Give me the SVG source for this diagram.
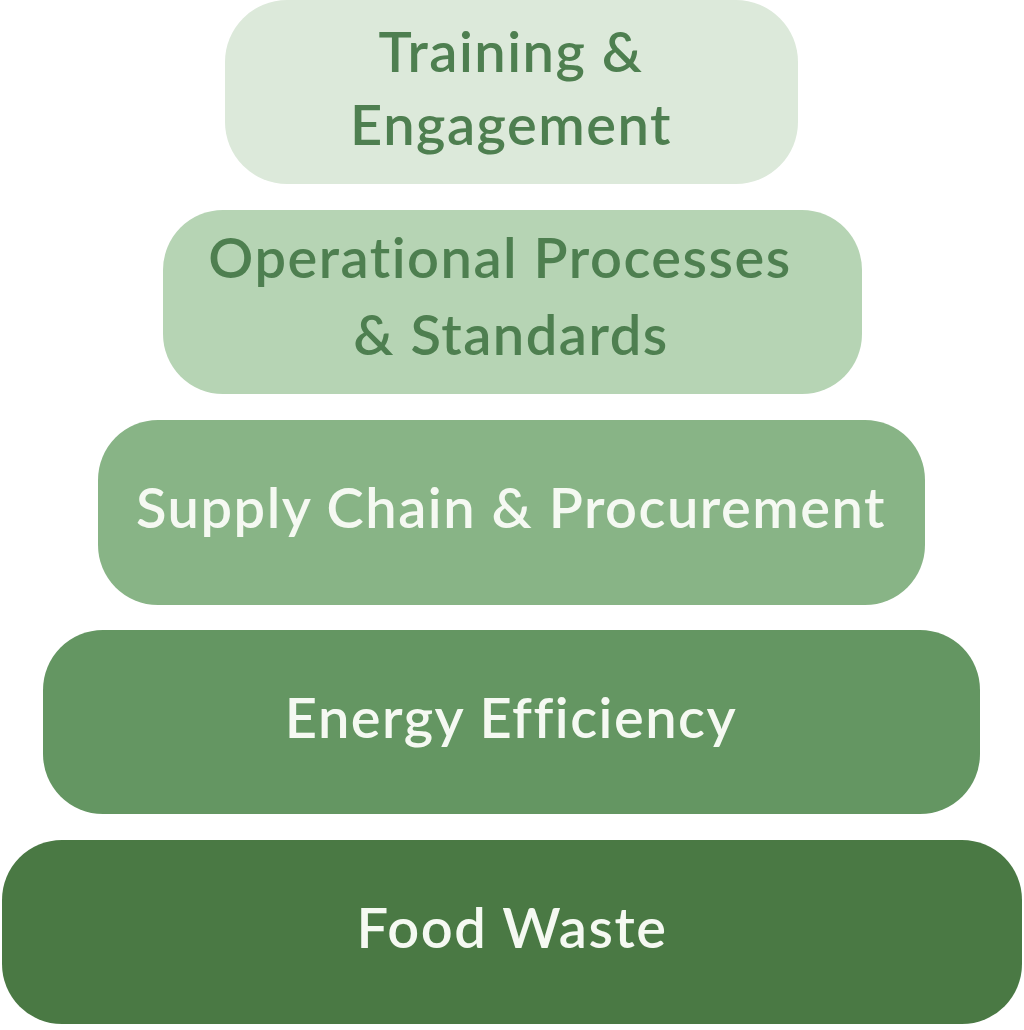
<svg xmlns="http://www.w3.org/2000/svg" width="1024" height="1030" viewBox="0 0 1024 1030">
<style>
.t{font-family:"Lato","Open Sans",sans-serif;font-weight:600;font-size:56px;text-anchor:middle;letter-spacing:1.5px}
.d{fill:#4e7f50}
.w{fill:#f5f9f2}
</style>
<rect width="1024" height="1030" fill="#ffffff"/>
<g id="layer1">
<rect x="225" y="0" width="573" height="184" rx="62" fill="#dce9da"/>
<text class="t d" x="511" y="72">Training &amp;</text>
<text class="t d" x="511" y="145">Engagement</text>
</g>
<g id="layer2">
<rect x="163" y="210" width="699" height="184" rx="60" fill="#b6d4b4"/>
<text class="t d" x="500" y="278">Operational Processes</text>
<text class="t d" x="511" y="355">&amp; Standards</text>
</g>
<g id="layer3">
<rect x="98" y="420" width="827" height="185" rx="60" fill="#88b486"/>
<text class="t w" x="511" y="528">Supply Chain &amp; Procurement</text>
</g>
<g id="layer4">
<rect x="43" y="630" width="937" height="184" rx="60" fill="#649662"/>
<text class="t w" x="511" y="738">Energy Efficiency</text>
</g>
<g id="layer5">
<rect x="2" y="840" width="1020" height="184" rx="60" fill="#4a7944"/>
<text class="t w" x="512" y="948">Food Waste</text>
</g>
<g id="connectors"/>
</svg>
